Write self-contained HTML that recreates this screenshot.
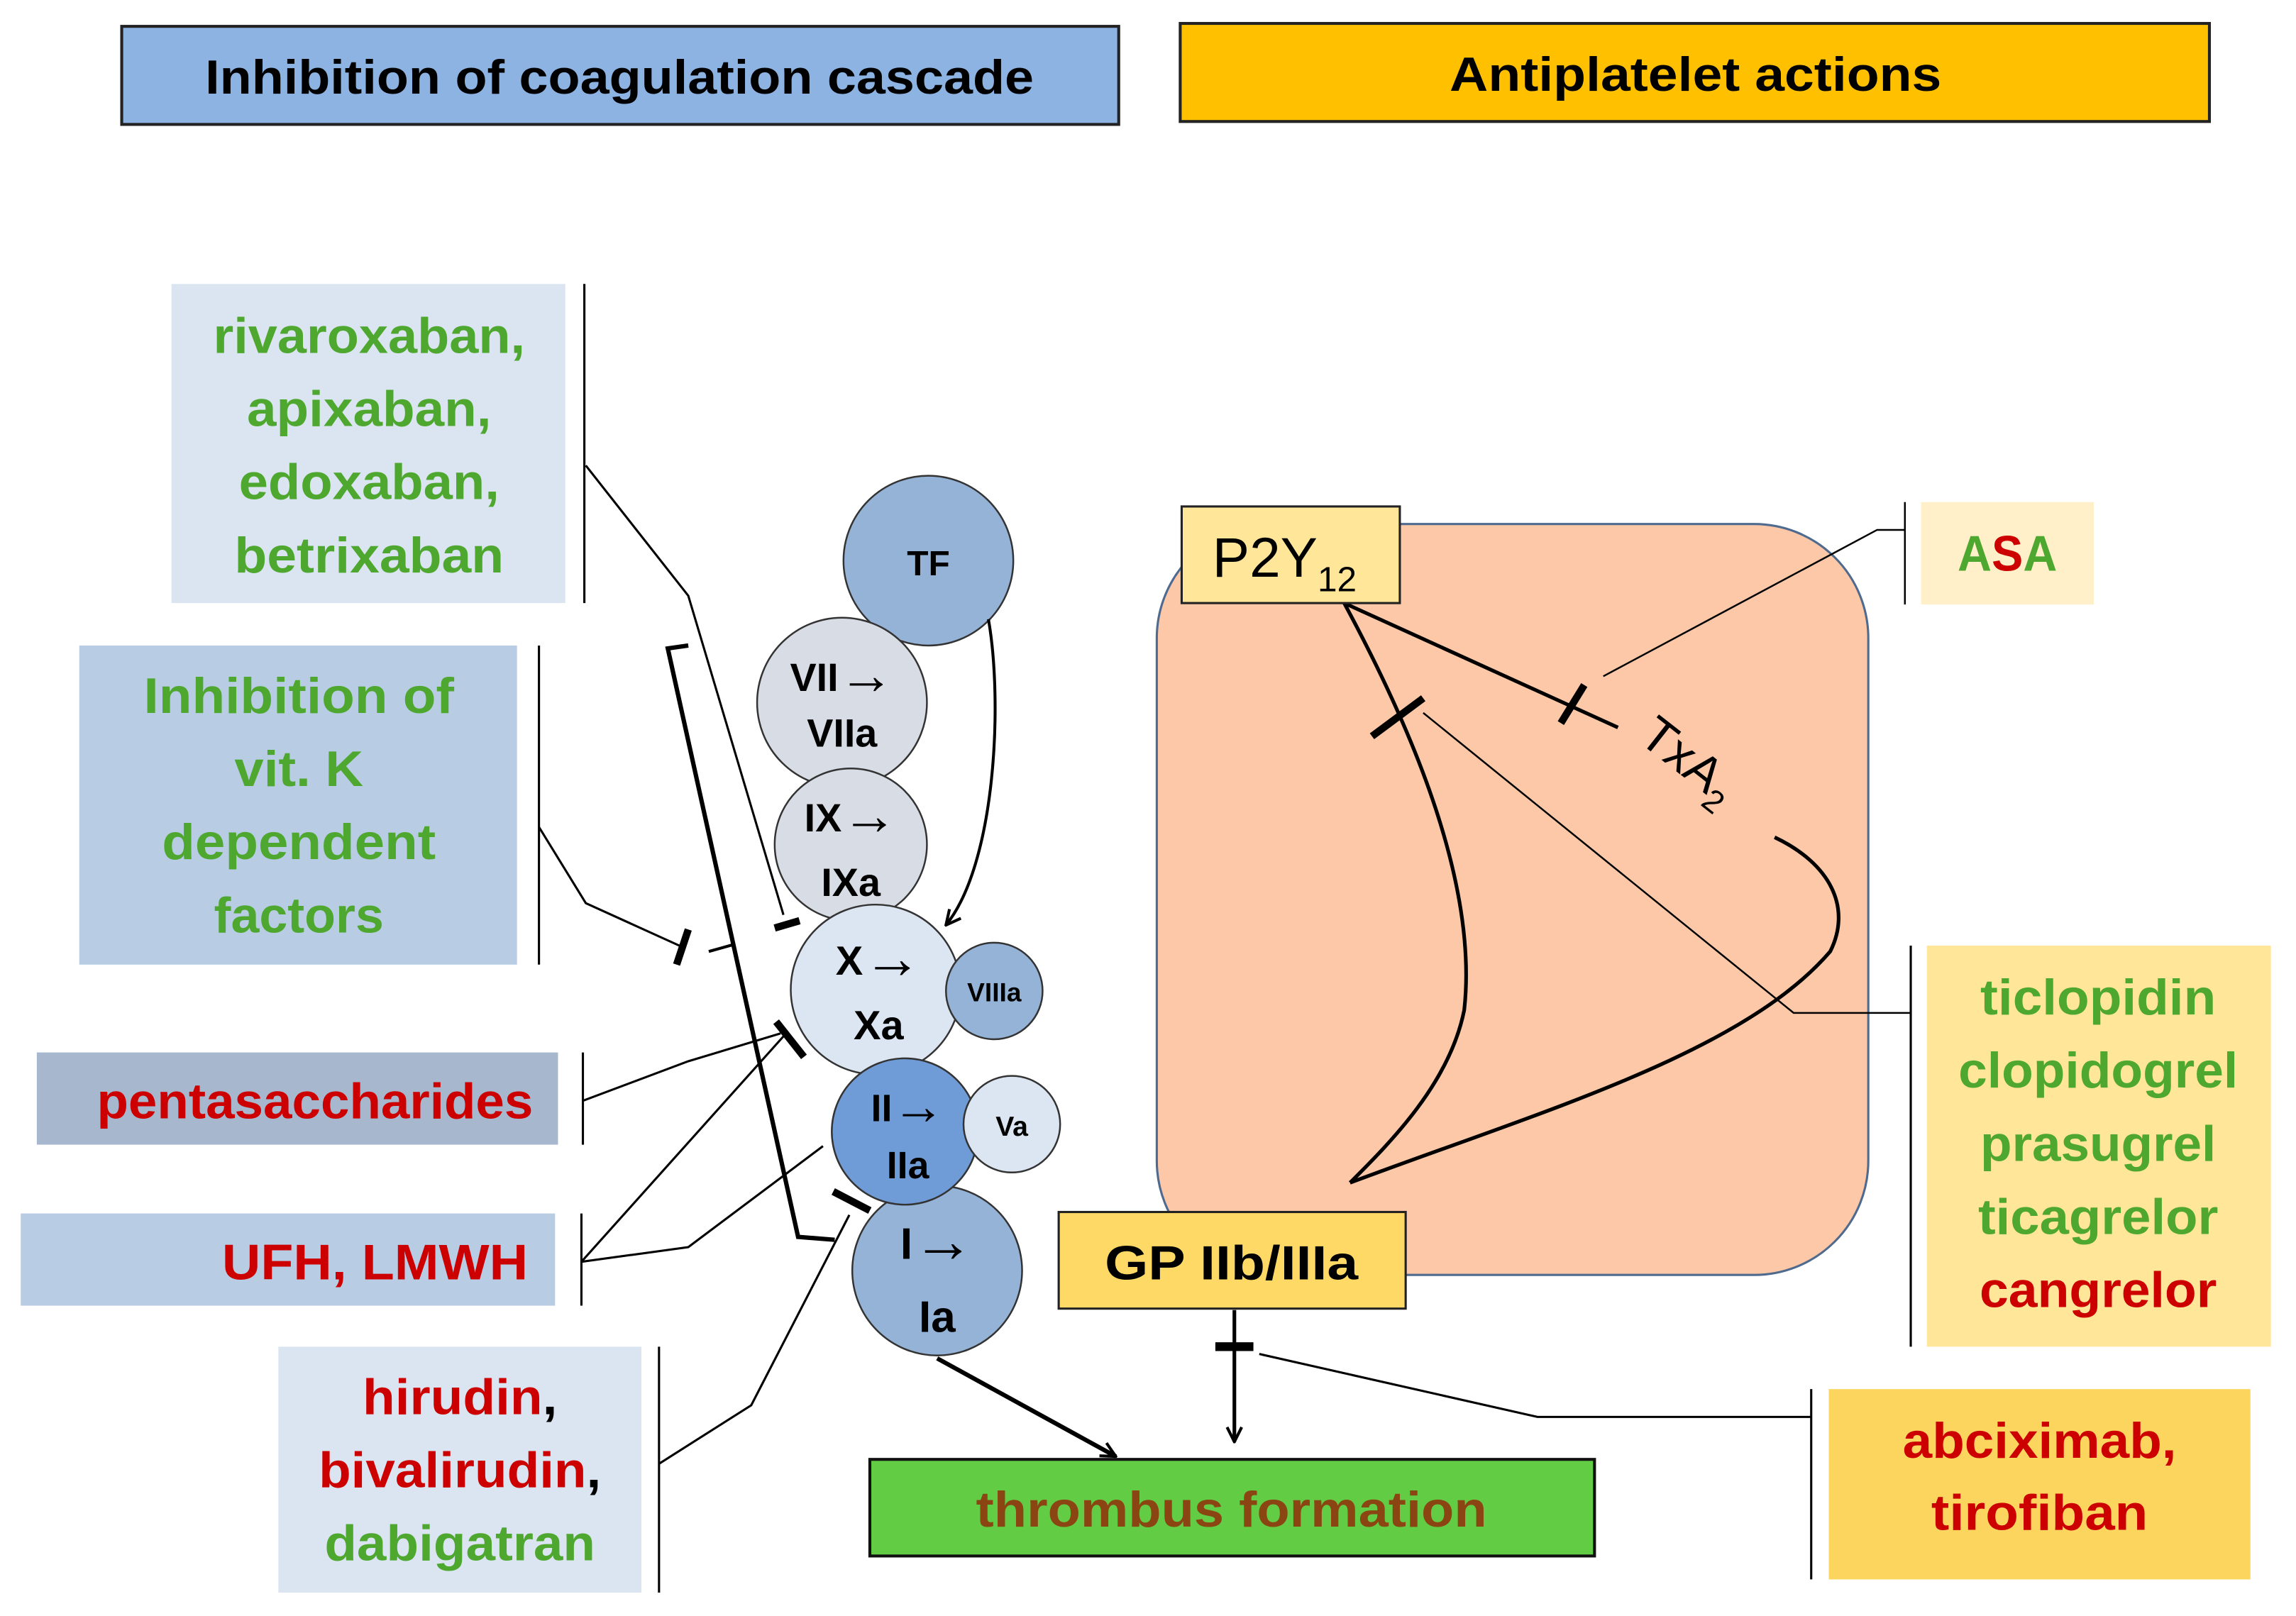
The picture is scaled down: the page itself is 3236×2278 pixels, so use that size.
<!DOCTYPE html>
<html><head><meta charset="utf-8"><style>html,body{margin:0;padding:0;background:#fff}svg{display:block}</style></head>
<body>
<svg xmlns="http://www.w3.org/2000/svg" width="3236" height="2278" viewBox="0 0 1568 1104" font-family="Liberation Sans, sans-serif" font-weight="bold">
<defs>
<marker id="ar" viewBox="0 0 12 12" refX="11" refY="6" markerWidth="12" markerHeight="12" markerUnits="userSpaceOnUse" orient="auto"><path d="M1,1 L11,6 L1,11" fill="none" stroke="#000" stroke-width="2"/></marker>
</defs>
<rect x="83" y="18" width="681" height="67" fill="#8db3e2" stroke="#222" stroke-width="2"/>
<text x="423" y="64" font-size="33" text-anchor="middle" textLength="566" lengthAdjust="spacingAndGlyphs">Inhibition of coagulation cascade</text>
<rect x="806" y="16" width="703" height="67" fill="#ffc000" stroke="#222" stroke-width="2"/>
<text x="1158" y="62" font-size="33" text-anchor="middle" textLength="336" lengthAdjust="spacingAndGlyphs">Antiplatelet actions</text>

<rect x="117" y="194" width="269" height="218" fill="#dbe5f1"/>
<g fill="#4ea72e" font-size="34" text-anchor="middle">
<text x="252" y="241" textLength="213" lengthAdjust="spacingAndGlyphs">rivaroxaban,</text>
<text x="252" y="291" textLength="167" lengthAdjust="spacingAndGlyphs">apixaban,</text>
<text x="252" y="341" textLength="178" lengthAdjust="spacingAndGlyphs">edoxaban,</text>
<text x="252" y="391" textLength="184" lengthAdjust="spacingAndGlyphs">betrixaban</text>
</g>
<line x1="399" y1="194" x2="399" y2="412" stroke="#000" stroke-width="1.5"/>

<rect x="54" y="441" width="299" height="218" fill="#b8cce4"/>
<g fill="#4ea72e" font-size="34" text-anchor="middle">
<text x="204" y="487" textLength="212" lengthAdjust="spacingAndGlyphs">Inhibition of</text>
<text x="204" y="537" textLength="88" lengthAdjust="spacingAndGlyphs">vit. K</text>
<text x="204" y="587" textLength="187" lengthAdjust="spacingAndGlyphs">dependent</text>
<text x="204" y="637" textLength="116" lengthAdjust="spacingAndGlyphs">factors</text>
</g>
<line x1="368" y1="441" x2="368" y2="659" stroke="#000" stroke-width="1.5"/>

<rect x="25" y="719" width="356" height="63" fill="#a7b8ce"/>
<text x="215" y="764" fill="#cc0000" font-size="34" text-anchor="middle" textLength="298" lengthAdjust="spacingAndGlyphs">pentasaccharides</text>
<line x1="398" y1="719" x2="398" y2="782" stroke="#000" stroke-width="1.5"/>

<rect x="14" y="829" width="365" height="63" fill="#b8cce4"/>
<text x="256" y="874" fill="#cc0000" font-size="34" text-anchor="middle" textLength="209" lengthAdjust="spacingAndGlyphs">UFH, LMWH</text>
<line x1="397" y1="829" x2="397" y2="892" stroke="#000" stroke-width="1.5"/>

<rect x="190" y="920" width="248" height="168" fill="#dbe5f1"/>
<g font-size="34" text-anchor="middle">
<text x="314" y="966" textLength="133" lengthAdjust="spacingAndGlyphs"><tspan fill="#cc0000">hirudin</tspan><tspan fill="#000">,</tspan></text>
<text x="314" y="1016" textLength="193" lengthAdjust="spacingAndGlyphs"><tspan fill="#cc0000">bivalirudin</tspan><tspan fill="#000">,</tspan></text>
<text x="314" y="1066" fill="#4ea72e" textLength="185" lengthAdjust="spacingAndGlyphs">dabigatran</text>
</g>
<line x1="450" y1="920" x2="450" y2="1088" stroke="#000" stroke-width="1.5"/>

<g stroke="#333" stroke-width="1.2">
<circle cx="634" cy="383" r="58" fill="#95b3d7"/>
<circle cx="575" cy="480" r="58" fill="#d8dde5"/>
<circle cx="581" cy="577" r="52" fill="#d8dde5"/>
<circle cx="598" cy="676" r="58" fill="#dce6f2"/>
<circle cx="679" cy="677" r="33" fill="#95b3d7"/>
<circle cx="640" cy="868" r="58" fill="#95b3d7"/>
<circle cx="618" cy="773" r="50" fill="#6f9bd6"/>
<circle cx="691" cy="768" r="33" fill="#dce6f2"/>
</g>
<g fill="#000" text-anchor="middle">
<text x="634" y="393" font-size="24">TF</text>
<text x="575" y="472" font-size="27">VII<tspan font-size="38" dy="2">→</tspan></text><text x="575" y="510" font-size="27">VIIa</text>
<text x="581" y="568" font-size="27">IX<tspan font-size="38" dy="2">→</tspan></text><text x="581" y="612" font-size="27">IXa</text>
<text x="600" y="666" font-size="28">X<tspan font-size="40" dy="2">→</tspan></text><text x="600" y="710" font-size="28">Xa</text>
<text x="679" y="684" font-size="18">VIIIa</text>
<text x="620" y="766" font-size="26">II<tspan font-size="36" dy="2">→</tspan></text><text x="620" y="805" font-size="26">IIa</text>
<text x="691" y="776" font-size="19">Va</text>
<text x="640" y="860" font-size="30">I<tspan font-size="42" dy="2">→</tspan></text><text x="640" y="910" font-size="30">Ia</text>
</g>

<g fill="none" stroke="#000">
<polyline points="400,318 470,407 535,625" stroke-width="1.5"/>
<line x1="529" y1="634" x2="546" y2="629" stroke-width="5"/>
<polyline points="470,441 456,443 545,845 570,847" stroke-width="3"/>
<polyline points="368,565 400,617 466,647" stroke-width="1.5"/>
<line x1="462" y1="659" x2="470" y2="635" stroke-width="5"/>
<line x1="484" y1="650" x2="502" y2="645" stroke-width="2"/>
<polyline points="398,752 470,725 533,706" stroke-width="1.5"/>
<line x1="530" y1="698" x2="549" y2="722" stroke-width="5"/>
<polyline points="397,862 535,708" stroke-width="1.5"/>
<polyline points="397,862 470,852 562,783" stroke-width="1.5"/>
<polyline points="450,1000 513,960 580,830" stroke-width="1.5"/>
<line x1="569" y1="814" x2="594" y2="827" stroke-width="5"/>
<path d="M675,423 C685,480 680,590 646,632" stroke-width="2" marker-end="url(#ar)"/>
<line x1="640" y1="928" x2="762" y2="995" stroke-width="3" marker-end="url(#ar)"/>
</g>

<rect x="594" y="997" width="495" height="66" fill="#62cc44" stroke="#111" stroke-width="2"/>
<text x="841" y="1043" fill="#8b4513" font-size="34" text-anchor="middle" textLength="349" lengthAdjust="spacingAndGlyphs">thrombus formation</text>

<rect x="790" y="358" width="486" height="513" rx="78" fill="#fcc8a8" stroke="#4f6a8f" stroke-width="1.5"/>
<g fill="none" stroke="#000">
<path d="M918,412 C960,490 1010,600 1000,690 C990,740 950,780 922,808" stroke-width="2.5"/>
<path d="M922,808 C1050,760 1190,720 1250,650 C1265,620 1250,590 1212,572" stroke-width="2.5"/>
<line x1="918" y1="412" x2="1105" y2="497" stroke-width="2.5"/>
<line x1="1066" y1="494" x2="1082" y2="468" stroke-width="5"/>
<line x1="937" y1="503" x2="972" y2="477" stroke-width="5"/>
<polyline points="1301,362 1282,362 1095,462" stroke-width="1.2"/>
<polyline points="972,487 1225,692 1305,692" stroke-width="1.2"/>
<line x1="843" y1="895" x2="843" y2="985" stroke-width="2.5" marker-end="url(#ar)"/>
<line x1="830" y1="920" x2="856" y2="920" stroke-width="6"/>
<polyline points="860,925 1050,968 1237,968" stroke-width="1.5"/>
</g>
<text transform="translate(1118,506) rotate(38)" font-weight="normal" font-size="34" fill="#000">TxA<tspan font-size="22" dy="8">2</tspan></text>

<rect x="807" y="346" width="149" height="66" fill="#ffe699" stroke="#222" stroke-width="1.5"/>
<text x="828" y="394" font-weight="normal" font-size="38" fill="#000">P2Y<tspan font-size="24" dy="10">12</tspan></text>

<rect x="723" y="828" width="237" height="66" fill="#ffd966" stroke="#222" stroke-width="1.5"/>
<text x="841" y="874" font-size="33" text-anchor="middle" textLength="173" lengthAdjust="spacingAndGlyphs">GP IIb/IIIa</text>

<rect x="1312" y="343" width="118" height="70" fill="#fff0c9"/>
<line x1="1301" y1="343" x2="1301" y2="413" stroke="#000" stroke-width="1.2"/>
<text x="1371" y="390" font-size="34" text-anchor="middle" textLength="68" lengthAdjust="spacingAndGlyphs"><tspan fill="#4ea72e">A</tspan><tspan fill="#cc0000">S</tspan><tspan fill="#4ea72e">A</tspan></text>

<rect x="1316" y="646" width="235" height="274" fill="#ffe699"/>
<line x1="1305" y1="646" x2="1305" y2="920" stroke="#000" stroke-width="1.5"/>
<g font-size="34" text-anchor="middle">
<text x="1433" y="693" fill="#4ea72e" textLength="161" lengthAdjust="spacingAndGlyphs">ticlopidin</text>
<text x="1433" y="743" fill="#4ea72e" textLength="191" lengthAdjust="spacingAndGlyphs">clopidogrel</text>
<text x="1433" y="793" fill="#4ea72e" textLength="161" lengthAdjust="spacingAndGlyphs">prasugrel</text>
<text x="1433" y="843" fill="#4ea72e" textLength="164" lengthAdjust="spacingAndGlyphs">ticagrelor</text>
<text x="1433" y="893" fill="#cc0000" textLength="162" lengthAdjust="spacingAndGlyphs">cangrelor</text>
</g>

<rect x="1249" y="949" width="288" height="130" fill="#fcd55f"/>
<line x1="1237" y1="949" x2="1237" y2="1079" stroke="#000" stroke-width="1.5"/>
<g font-size="34" text-anchor="middle" fill="#cc0000">
<text x="1393" y="996" textLength="187" lengthAdjust="spacingAndGlyphs">abciximab,</text>
<text x="1393" y="1045" textLength="148" lengthAdjust="spacingAndGlyphs">tirofiban</text>
</g>
</svg>
</body></html>
